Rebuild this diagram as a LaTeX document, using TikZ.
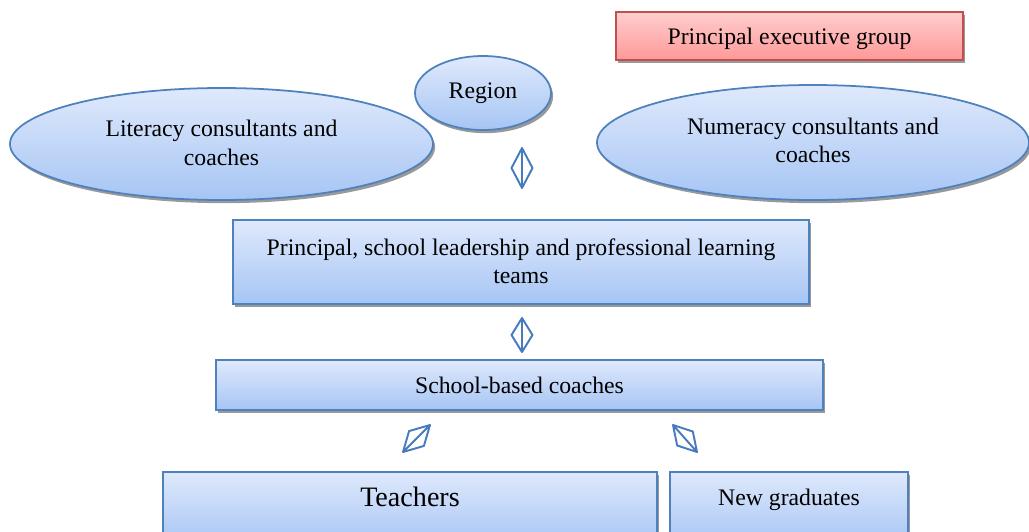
\documentclass[tikz,border=0pt]{standalone}
\usepackage{fontspec}
\setmainfont{Liberation Serif}
\usepackage{xcolor}
\usepackage{tikz}
\usetikzlibrary{calc,shapes.geometric,shadows}
\definecolor{lineblue}{RGB}{79,129,189}
\definecolor{filltop}{RGB}{223,233,252}
\definecolor{fillbot}{RGB}{166,197,244}
\definecolor{redline}{RGB}{192,80,77}
\definecolor{redtop}{RGB}{255,206,206}
\definecolor{redbot}{RGB}{255,152,152}
\definecolor{arrowblue}{RGB}{72,122,190}

\begin{document}
\begin{tikzpicture}[
  every node/.style={font=\fontsize{13.5}{16}\selectfont, align=center, inner sep=0pt},
  boxshadow/.style={drop shadow={shadow xshift=1.2pt, shadow yshift=-1.8pt, fill=black!40, opacity=1}},
  bluebox/.style={draw=lineblue, line width=1pt, top color=filltop, bottom color=fillbot, boxshadow},
  blueoval/.style={ellipse, bluebox},
  redbox/.style={draw=redline, line width=1pt, top color=redtop, bottom color=redbot, boxshadow},
  lowbox/.style={bluebox, anchor=north, inner ysep=0.25cm},
  updown/.style={draw=arrowblue, line width=1.1pt, line join=round,
    to path={-- ($(\tikztostart)!.5!(\tikztotarget)!#1!90:(\tikztotarget)$)
      -- (\tikztotarget)
      -- ($(\tikztostart)!.5!(\tikztotarget)!#1!-90:(\tikztotarget)$)
      -- cycle -- (\tikztotarget)}},
  updown/.default=0.21cm
]
\useasboundingbox (0,0) rectangle (20.58,-10.62);

% top level
\node[redbox, minimum width=6.94cm, minimum height=0.96cm, text depth=0pt] (exec) at (15.79,-0.72) {Principal executive group};
\node[blueoval, minimum width=2.72cm, minimum height=1.48cm] (region) at (9.66,-1.86) {Region};
\node[blueoval, minimum width=8.46cm, minimum height=2.24cm, text depth=0.05cm] (literacy) at (4.43,-2.88) {Literacy consultants and\\coaches};
\node[blueoval, minimum width=8.64cm, minimum height=2.3cm, text depth=0.1cm] (numeracy) at (16.26,-2.85) {Numeracy consultants and\\coaches};

% school level
\node[bluebox, minimum width=11.52cm, minimum height=1.68cm, text depth=0.05cm] (leaders) at (10.42,-5.24) {Principal, school leadership and professional learning\\teams};
\node[bluebox, minimum width=12.14cm, minimum height=1cm] (coaches) at (10.39,-7.7) {School-based coaches};
\node[lowbox, minimum width=9.88cm, text height=0.45cm, text depth=0.52cm, font=\fontsize{16}{18}\selectfont] (teachers) at (8.2,-9.42) {Teachers};
\node[lowbox, minimum width=4.76cm, text height=0.42cm, text depth=0.55cm] (grads) at (15.78,-9.42) {New graduates};

% two-way arrows
\coordinate (r1) at (10.44,-2.96);
\coordinate (r2) at (10.44,-3.76);
\coordinate (l1) at (10.44,-6.36);
\coordinate (l2) at (10.44,-7.04);
\coordinate (t1) at (8.6,-8.5);
\coordinate (t2) at (8.06,-9.04);
\coordinate (g1) at (13.46,-8.5);
\coordinate (g2) at (13.94,-9.04);
\draw[updown] (r1) to (r2);
\draw[updown] (l1) to (l2);
\draw[updown] (t1) to (t2);
\draw[updown] (g1) to (g2);
\end{tikzpicture}
\end{document}
